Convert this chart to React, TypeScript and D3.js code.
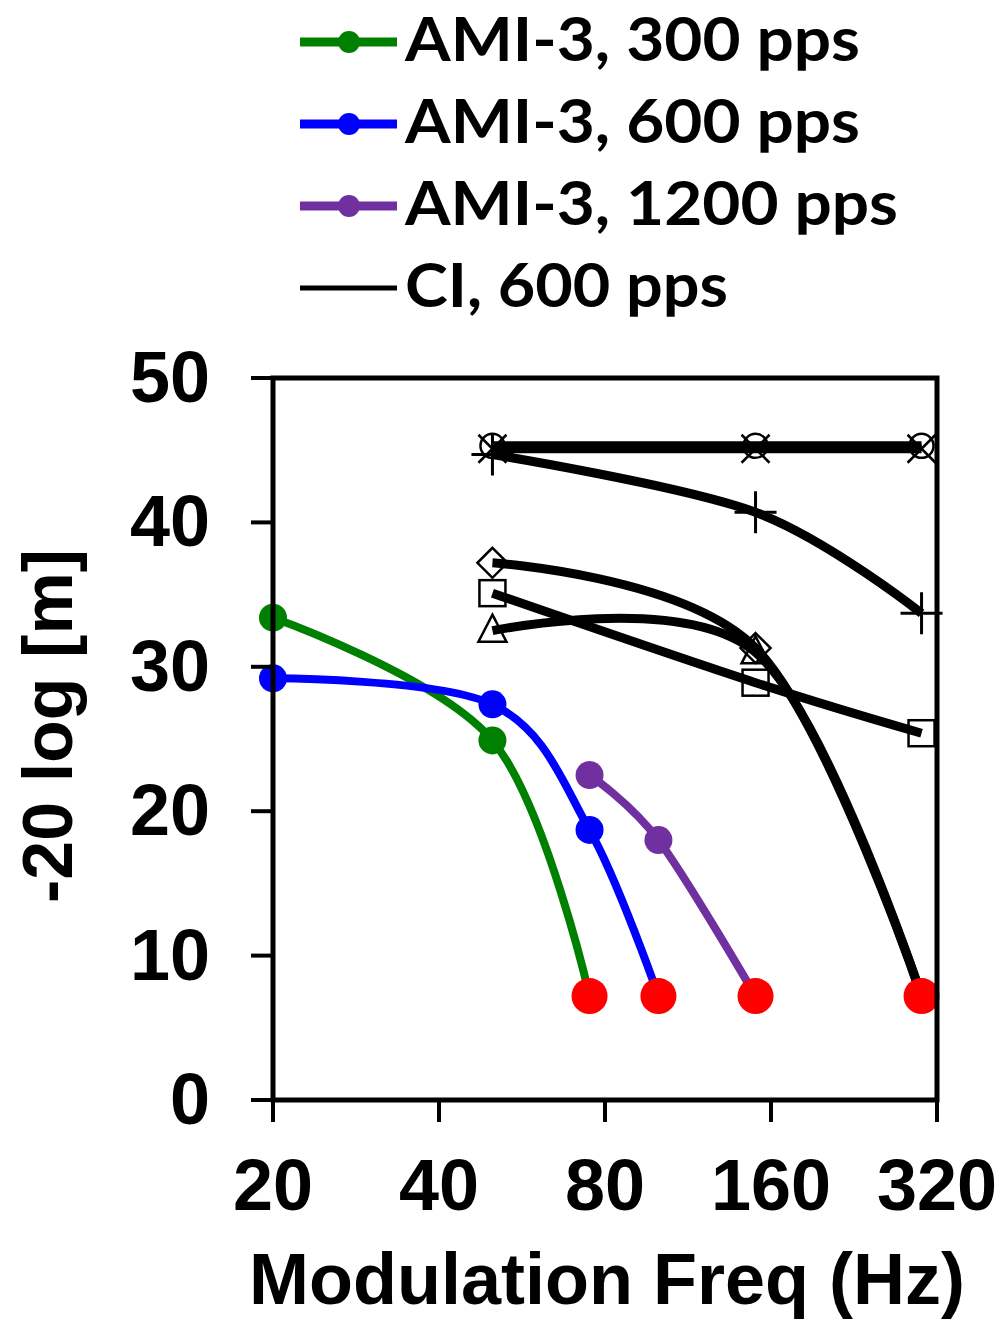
import React from "react";
import * as d3 from "d3";

// modulation frequencies (Hz) and -20 log[m] thresholds
const freqTicks = [20, 40, 80, 160, 320];
const yTicks = [0, 10, 20, 30, 40, 50];

const ami300Freqs = [20, 50, 75];
const ami300Vals = [33.4, 24.9, 7.2];
const ami600Freqs = [20, 50, 75, 100];
const ami600Vals = [29.2, 27.4, 18.7, 7.2];
const ami1200Freqs = [75, 100, 150];
const ami1200Vals = [22.5, 18.0, 7.2];

const ciFreqs = [50, 150, 300];
const ciCircle = [45.3, 45.3, 45.3];
const ciCross = [45.1, 45.1, 45.1];
const ciPlus = [44.7, 40.7, 33.7];
const ciDiamond = [37.2, 31.3, 7.2];
const ciSquare = [35.1, 28.9, 25.4];
const ciTriangle = [32.5, 31.0, 7.2];

// no response points (red)
const dropFreqs = [75, 100, 150, 300];
const dropLevel = 7.2;

const legendLabels = ["AMI-3, 300 pps", "AMI-3, 600 pps", "AMI-3, 1200 pps", "CI, 600 pps"];
const legendColors = ["#008000", "#0000ff", "#7030a0", "#000000"];

const W = 1005;
const H = 1328;
const margin = { left: 273, right: 937, top: 378, bottom: 1100 };

const x = d3.scaleLog().domain([20, 320]).range([margin.left, margin.right]);
const y = d3.scaleLinear().domain([0, 50]).range([margin.bottom, margin.top]);

const line = d3
  .line<[number, number]>()
  .x((d) => x(d[0]))
  .y((d) => y(d[1]))
  .curve(d3.curveCatmullRom.alpha(0));

const zip = (fs: number[], vs: number[]) => fs.map((f, i) => [f, vs[i]] as [number, number]);

const marker = (kind: string, cx: number, cy: number, key: string) => {
  const s = 14;
  const common = { key, fill: "none", stroke: "#000", strokeWidth: 2.5 };
  if (kind === "circle") return <circle {...common} cx={cx} cy={cy} r={12} />;
  if (kind === "cross")
    return <path {...common} d={`M${cx - s},${cy - s}L${cx + s},${cy + s}M${cx - s},${cy + s}L${cx + s},${cy - s}`} />;
  if (kind === "plus")
    return <path {...common} strokeWidth={3} d={`M${cx - 21},${cy}L${cx + 21},${cy}M${cx},${cy - 21}L${cx},${cy + 21}`} />;
  if (kind === "diamond")
    return <path {...common} d={`M${cx},${cy - 15}L${cx + 15},${cy}L${cx},${cy + 15}L${cx - 15},${cy}Z`} />;
  if (kind === "square") return <rect {...common} x={cx - 13} y={cy - 13} width={26} height={26} />;
  return <path {...common} d={`M${cx},${cy - 16}L${cx + 14},${cy + 11}L${cx - 14},${cy + 11}Z`} />;
};

export default function App() {
  const ciSeries = [
    { vals: ciCircle, kind: "circle" },
    { vals: ciCross, kind: "cross" },
    { vals: ciPlus, kind: "plus" },
    { vals: ciDiamond, kind: "diamond" },
    { vals: ciSquare, kind: "square" },
    { vals: ciTriangle, kind: "triangle" },
  ];
  const amiSeries = [
    { freqs: ami300Freqs, vals: ami300Vals, color: legendColors[0] },
    { freqs: ami600Freqs, vals: ami600Vals, color: legendColors[1] },
    { freqs: ami1200Freqs, vals: ami1200Vals, color: legendColors[2] },
  ];

  return (
    <svg
      width={W}
      height={H}
      style={{ position: "absolute", left: 0, top: 0, background: "#fff" }}
    >
      {/* legend */}
      {legendLabels.map((lab, i) => {
        const ly = 42 + i * 82;
        return (
          <g key={lab}>
            <line x1={300} x2={397} y1={ly} y2={ly} stroke={legendColors[i]} strokeWidth={i < 3 ? 9 : 5} />
            {i < 3 && <circle cx={349} cy={ly} r={11} fill={legendColors[i]} />}
            <text
              x={405}
              y={ly + 19}
              fontFamily="Lato, 'Open Sans', sans-serif"
              fontWeight="bold"
              fontSize={61}
              textLength={[455, 455, 493, 323][i]}
              lengthAdjust="spacingAndGlyphs"
            >
              {lab}
            </text>
          </g>
        );
      })}

      {/* CI lines */}
      {ciSeries.map((s, i) => (
        <path key={"ci" + i} d={line(zip(ciFreqs, s.vals)) || ""} fill="none" stroke="#000" strokeWidth={9} />
      ))}
      {ciSeries.map((s, i) =>
        ciFreqs.map((f, j) =>
          s.vals[j] === dropLevel ? null : marker(s.kind, x(f), y(s.vals[j]), `m${i}-${j}`)
        )
      )}

      {/* AMI lines */}
      {amiSeries.map((s, i) => (
        <g key={"ami" + i}>
          <path d={line(zip(s.freqs, s.vals)) || ""} fill="none" stroke={s.color} strokeWidth={8} />
          {s.freqs.map((f, j) =>
            s.vals[j] === dropLevel ? null : (
              <circle key={j} cx={x(f)} cy={y(s.vals[j])} r={14} fill={s.color} />
            )
          )}
        </g>
      ))}

      {/* no response */}
      {dropFreqs.map((f) => (
        <circle key={"d" + f} cx={x(f)} cy={y(dropLevel)} r={18} fill="#ff0000" />
      ))}

      {/* frame and axes */}
      <g stroke="#000" strokeWidth={5} fill="none">
        <path d={`M${margin.left},${margin.bottom}V${margin.top}H${margin.right}V${margin.bottom}Z`} />
        {yTicks.map((t) => (
          <line key={"yt" + t} x1={margin.left - 22} x2={margin.left} y1={y(t)} y2={y(t)} strokeWidth={4} />
        ))}
        {freqTicks.map((t) => (
          <line key={"xt" + t} x1={x(t)} x2={x(t)} y1={margin.bottom} y2={margin.bottom + 22} strokeWidth={4} />
        ))}
      </g>

      <g fontFamily="'Liberation Sans', Arial, sans-serif" fontWeight="bold" fontSize={72} fill="#000">
        {yTicks.map((t) => (
          <text key={"yl" + t} x={210} y={y(t) + 24} textAnchor="end">
            {t}
          </text>
        ))}
        {freqTicks.map((t) => (
          <text key={"xl" + t} x={x(t)} y={1210} textAnchor="middle">
            {t}
          </text>
        ))}
        <text x={607} y={1304} textAnchor="middle">
          Modulation Freq (Hz)
        </text>
        <text transform="translate(72,726) rotate(-90)" textAnchor="middle" fontSize={70}>
          -20 log [m]
        </text>
      </g>
    </svg>
  );
}
